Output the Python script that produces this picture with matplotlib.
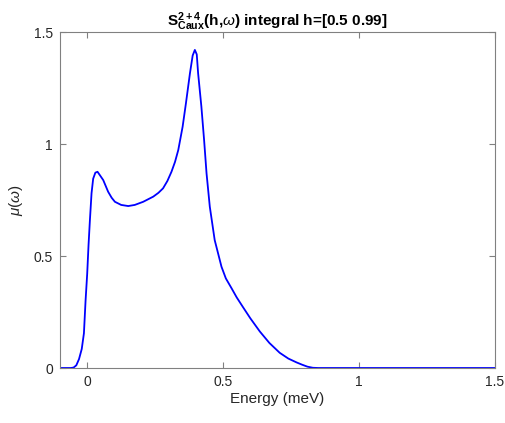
import matplotlib
matplotlib.use("Agg")
import matplotlib.pyplot as plt

energy = [-0.1, -0.06, -0.05, -0.04, -0.03, -0.02, -0.012, -0.006, 0.0, 0.005,
          0.01, 0.016, 0.022, 0.03, 0.038, 0.046, 0.059, 0.077, 0.09, 0.102,
          0.125, 0.151, 0.175, 0.206, 0.243, 0.262, 0.279, 0.295, 0.31, 0.323,
          0.335, 0.351, 0.363, 0.378, 0.388, 0.396, 0.403, 0.408, 0.42, 0.43,
          0.439, 0.451, 0.469, 0.494, 0.51, 0.531, 0.55, 0.574, 0.6, 0.635,
          0.67, 0.708, 0.74, 0.77, 0.79, 0.81, 0.83, 0.85, 1.0, 1.5]
mu = [0.0, 0.0, 0.002, 0.012, 0.04, 0.085, 0.155, 0.30, 0.42, 0.55,
      0.66, 0.78, 0.845, 0.872, 0.876, 0.862, 0.839, 0.787, 0.76, 0.742,
      0.728, 0.723, 0.728, 0.742, 0.765, 0.782, 0.802, 0.835, 0.876, 0.92,
      0.973, 1.077, 1.18, 1.316, 1.395, 1.42, 1.40, 1.316, 1.167, 1.018,
      0.869, 0.72, 0.571, 0.452, 0.40, 0.356, 0.315, 0.27, 0.222, 0.163,
      0.112, 0.068, 0.042, 0.025, 0.015, 0.006, 0.001, 0.0, 0.0, 0.0]

xticks = [0, 0.5, 1, 1.5]
xticklabels = ["0", "0.5", "1", "1.5"]
yticks = [0, 0.5, 1, 1.5]
yticklabels = ["0", "0.5", "1", "1.5"]

plt.rcParams["font.family"] = ["Liberation Sans", "DejaVu Sans"]
plt.rcParams["mathtext.fontset"] = "custom"
plt.rcParams["mathtext.rm"] = "Liberation Sans"
plt.rcParams["mathtext.it"] = "Liberation Sans:italic"
plt.rcParams["mathtext.bf"] = "Liberation Sans:bold"

fig = plt.figure(figsize=(5.05, 4.23), dpi=100)
ax = fig.add_axes([60 / 505, 55 / 423, 435 / 505, 336 / 423])
ax.plot(energy, mu, color=(0, 0, 1), linewidth=1.3, solid_joinstyle="round")
ax.set_xlim(-0.1, 1.5)
ax.set_ylim(0, 1.5)
ax.set_xticks(xticks)
ax.set_xticklabels(xticklabels)
ax.set_yticks(yticks)
ax.set_yticklabels(yticklabels)
axc = "#262626"
for s in ax.spines.values():
    s.set_color("#808080")
    s.set_linewidth(0.8)
ax.tick_params(direction="in", top=True, right=True, length=4, width=0.8,
               colors="#808080", labelcolor=axc, labelsize=10, pad=5)
ax.set_xlabel("Energy (meV)", fontsize=11, color=axc, labelpad=2)
ax.set_ylabel(r"$\mu(\omega)$", fontsize=11, color=axc, labelpad=6)
ax.set_title(r"$\mathbf{S^{2+4}_{Caux}}$" + r"(h,$\omega$) integral h=[0.5 0.99]",
             fontsize=11, fontweight="bold", color="black", pad=4)
fig.savefig("out.png", dpi=100)
